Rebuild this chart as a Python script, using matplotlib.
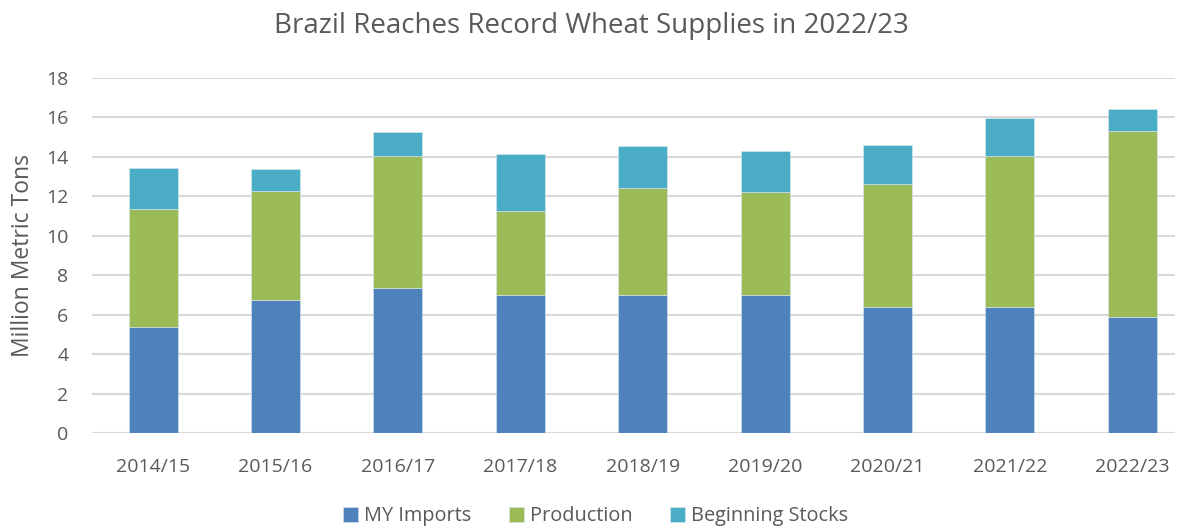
import matplotlib

matplotlib.use("Agg")
import matplotlib.pyplot as plt
import numpy as np

years = ["2014/15", "2015/16", "2016/17", "2017/18", "2018/19",
         "2019/20", "2020/21", "2021/22", "2022/23"]
imports = [5.36, 6.73, 7.33, 6.99, 6.99, 7.02, 6.38, 6.38, 5.87]
production = [6.01, 5.54, 6.73, 4.28, 5.45, 5.21, 6.26, 7.68, 9.43]
stocks = [2.08, 1.10, 1.22, 2.86, 2.13, 2.07, 1.98, 1.93, 1.15]

series = [
    ("MY Imports", imports, "#4F81BD"),
    ("Production", production, "#9BBB59"),
    ("Beginning Stocks", stocks, "#4BACC6"),
]

plt.rcParams["font.family"] = ["Open Sans", "DejaVu Sans"]
text_color = "#595959"

fig = plt.figure(figsize=(11.82, 5.27), dpi=100)
ax = fig.add_axes([92 / 1182, 1 - 433 / 527, (1175 - 92) / 1182, (433 - 78) / 527])

x = np.arange(len(years))
bottom = np.zeros(len(years))
for name, vals, color in series:
    ax.bar(x, vals, 0.4, bottom=bottom, color=color, label=name,
           edgecolor="#DDE8F0", linewidth=0.4, zorder=3)
    bottom += np.array(vals)

ax.set_xlim(-0.5, 8.35)
ax.set_ylim(0, 18)
ax.set_yticks(range(0, 19, 2))
ax.set_xticks(x)
ax.set_xticklabels(years)
ax.grid(axis="y", color="#D9D9D9", linewidth=1.5, zorder=0)
for s in ax.spines.values():
    s.set_visible(False)
ax.tick_params(length=0, labelsize=14, colors=text_color)
ax.tick_params(axis="x", pad=18)
ax.tick_params(axis="y", pad=17)
ax.set_ylabel("Million Metric Tons", fontsize=16.5, color=text_color, labelpad=8)

fig.suptitle("Brazil Reaches Record Wheat Supplies in 2022/23",
             fontsize=20, color=text_color, y=0.977)

ax.legend(loc="center", bbox_to_anchor=(0.465, -0.235), ncol=3,
          frameon=False, fontsize=14.3, labelcolor=text_color,
          handlelength=0.75, handleheight=0.75, handletextpad=0.3,
          columnspacing=1.9)

fig.savefig("out.png", dpi=100)
plt.close(fig)
